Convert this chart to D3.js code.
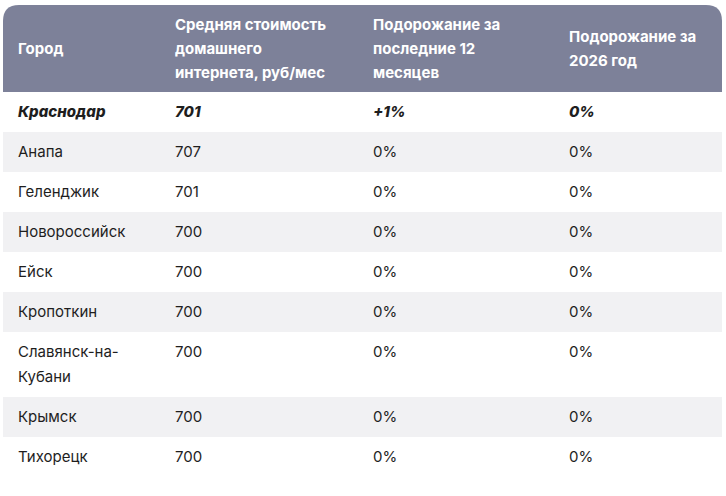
<!DOCTYPE html><html><head><meta charset="utf-8"><script src="https://cdn.jsdelivr.net/npm/d3@7"></script>
<style>body{margin:0;background:#fff}</style></head><body><svg id="c" width="726" height="496"></svg>
<script>
const headers=[["Город"],["Средняя стоимость","домашнего","интернета, руб/мес"],["Подорожание за","последние 12","месяцев"],["Подорожание за","2026 год"]];
const cities=[["Краснодар"],["Анапа"],["Геленджик"],["Новороссийск"],["Ейск"],["Кропоткин"],["Славянск-на-","Кубани"],["Крымск"],["Тихорецк"]];
const prices=["701","707","701","700","700","700","700","700","700"];
const change12=["+1%","0%","0%","0%","0%","0%","0%","0%","0%"];
const change2026=["0%","0%","0%","0%","0%","0%","0%","0%","0%"];
const svg=d3.select("#c"), F="Inter, 'Noto Sans', sans-serif";
const colX=[18,175,373,569], L=3, R=722;
const hTop=5,hBot=92;
svg.append("path").attr("d",`M${L},${hBot}V${hTop+16}Q${L},${hTop} ${L+16},${hTop}H${R-16}Q${R},${hTop} ${R},${hTop+16}V${hBot}Z`).attr("fill","#7d8199");
headers.forEach((h,i)=>{const y0=(hTop+hBot)/2-(h.length-1)*12;
 h.forEach((t,j)=>svg.append("text").attr("x",colX[i]).attr("y",y0+j*24).attr("dy","0.35em").attr("fill","#fff").attr("font-family",F).attr("font-weight",700).attr("font-size",15).text(t));});
let y=hBot;
cities.forEach((c,i)=>{const h=c.length>1?65:40;
 svg.append("rect").attr("x",L).attr("y",y).attr("width",R-L).attr("height",h).attr("fill",i%2?"#f1f1f3":"#fff");
 const cells=[c,[prices[i]],[change12[i]],[change2026[i]]];
 cells.forEach((cell,k)=>cell.forEach((t,j)=>svg.append("text").attr("x",colX[k]).attr("y",y+20+j*25).attr("dy","0.35em").attr("fill","#1e1e1e").attr("font-family",F).attr("font-size",15)
  .attr("font-weight",i==0?800:400).attr("font-style",i==0?"italic":"normal").text(t)));
 y+=h;});
</script></body></html>
